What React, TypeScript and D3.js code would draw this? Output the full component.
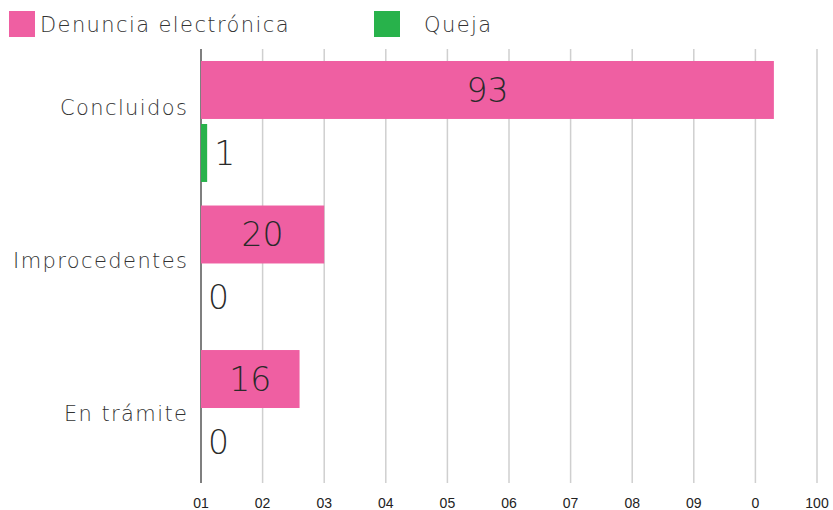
import React from "react";
import * as d3 from "d3";

const categories = ["Concluidos", "Improcedentes", "En trámite"];
const seriesNames = ["Denuncia electrónica", "Queja"];
const denunciaValues = [93, 20, 16];
const quejaValues = [1, 0, 0];
const xTicks = [0, 10, 20, 30, 40, 50, 60, 70, 80, 90, 100];
const xTickLabels = ["01", "02", "03", "04", "05", "06", "07", "08", "09", "0", "100"];
const colors = ["#ef5fa2", "#28b24b"];

const W = 833;
const H = 510;
const FONT = "'DejaVu Sans', sans-serif";
const LS = 1.4;

export default function App() {
  const x = d3.scaleLinear().domain([0, 100]).range([201, 817]);
  const y = d3
    .scaleBand<string>()
    .domain(categories)
    .range([49, 483])
    .paddingInner(0.163)
    .paddingOuter(0.083);
  const inner = d3
    .scaleBand<string>()
    .domain(seriesNames)
    .range([0, y.bandwidth()])
    .paddingInner(0.08);
  const labelY = d3.scalePoint<string>().domain(categories).range([107, 413]);
  const series = [denunciaValues, quejaValues];

  return (
    <svg width={W} height={H} style={{ position: "absolute", left: 0, top: 0 }}>
      <rect width={W} height={H} fill="#fff" />
      {xTicks.map((t, i) => (
        <line
          key={"g" + i}
          x1={x(t)}
          x2={x(t)}
          y1={49}
          y2={483}
          stroke={i === 0 ? "#555" : "#cfcfcf"}
          strokeWidth={1.5}
        />
      ))}
      {xTicks.map((t, i) => (
        <text
          key={"t" + i}
          x={x(t)}
          y={508}
          textAnchor="middle"
          fontFamily="'Liberation Sans', Arial, sans-serif"
          fontSize={14}
          fill="#222"
        >
          {xTickLabels[i]}
        </text>
      ))}
      {categories.map((c, ci) =>
        seriesNames.map((s, si) => {
          const v = series[si][ci];
          const by = (y(c) as number) + (inner(s) as number);
          const bh = inner.bandwidth();
          const inside = si === 0 && v > 5;
          return (
            <g key={c + s}>
              <rect x={x(0)} y={by} width={x(v) - x(0)} height={bh} fill={colors[si]} />
              <text
                x={inside ? (x(0) + x(v)) / 2 : x(v) + 7}
                y={by + bh / 2}
                dy="0.36em"
                textAnchor={inside ? "middle" : "start"}
                fontFamily={FONT}
                fontWeight={200}
                fontSize={33}
                fill="#2a2a2a"
              >
                {v}
              </text>
            </g>
          );
        })
      )}
      {categories.map((c) => (
        <text
          key={"c" + c}
          x={187 + LS}
          y={labelY(c)}
          dy="0.36em"
          textAnchor="end"
          fontFamily={FONT}
          fontWeight={200}
          fontSize={21}
          letterSpacing={LS}
          fill="#333"
        >
          {c}
        </text>
      ))}
      {seriesNames.map((s, i) => {
        const lx = [9, 374][i];
        const tx = [40, 424][i];
        return (
          <g key={"l" + s}>
            <rect x={lx} y={11} width={26} height={26} fill={colors[i]} />
            <text
              x={tx}
              y={24}
              dy="0.36em"
              fontFamily={FONT}
              fontWeight={200}
              fontSize={21}
              letterSpacing={LS}
              fill="#333"
            >
              {s}
            </text>
          </g>
        );
      })}
    </svg>
  );
}
